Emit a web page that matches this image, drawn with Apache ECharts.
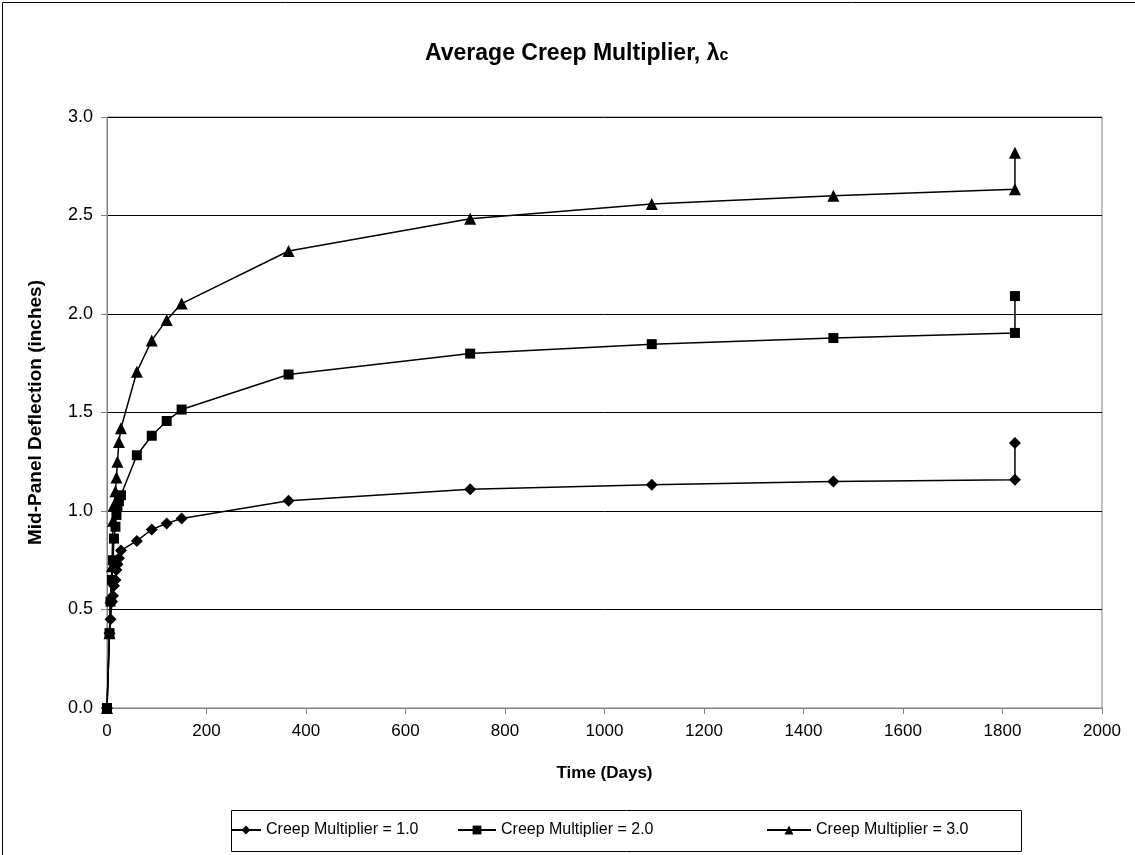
<!DOCTYPE html>
<html>
<head>
<meta charset="utf-8">
<script src="https://cdn.jsdelivr.net/npm/echarts@6/dist/echarts.min.js"></script>
<style>
html,body{margin:0;padding:0;background:#fff;}
#chart{width:1135px;height:855px;}
</style>
</head>
<body>
<div id="chart"></div>
<script>
// ---- data ----
var days = [0, 5, 7, 10, 12, 14, 17, 19, 21, 24, 28, 60, 90, 120, 150, 365, 730, 1095, 1460, 1825, 1825];
var creep1 = [0, 0.38, 0.45, 0.54, 0.57, 0.62, 0.65, 0.70, 0.73, 0.76, 0.80, 0.848, 0.906, 0.937, 0.962, 1.052, 1.110, 1.133, 1.150, 1.159, 1.345];
var creep2 = [0, 0.38, 0.54, 0.65, 0.75, 0.86, 0.92, 0.98, 1.02, 1.05, 1.08, 1.283, 1.382, 1.457, 1.515, 1.693, 1.799, 1.847, 1.878, 1.904, 2.091];
var creep3 = [0, 0.38, 0.56, 0.72, 0.95, 1.03, 1.10, 1.17, 1.25, 1.35, 1.42, 1.707, 1.866, 1.970, 2.053, 2.320, 2.483, 2.558, 2.600, 2.633, 2.819];
var seriesNames = ['Creep Multiplier = 1.0', 'Creep Multiplier = 2.0', 'Creep Multiplier = 3.0'];
var xTicks = [0, 200, 400, 600, 800, 1000, 1200, 1400, 1600, 1800, 2000];
var yTicks = [0.0, 0.5, 1.0, 1.5, 2.0, 2.5, 3.0];

function pairs(ys) { return days.map(function (d, i) { return [d, ys[i]]; }); }

var FONT = 'Liberation Sans, Arial, sans-serif';
var diamond = 'path://M0,-1 L1,0 L0,1 L-1,0 Z';

var chart = echarts.init(document.getElementById('chart'), null, {renderer: 'canvas'});
var lineStyle = {color: '#000', width: 1.5};
var legendText = {fontFamily: FONT, fontSize: 16, color: '#000'};
chart.setOption({
  animation: false,
  backgroundColor: '#fff',
  title: {
    text: '{a|Average Creep Multiplier, λ}{c|c}',
    left: 420,
    top: 37,
    textStyle: {
      rich: {
        a: {fontFamily: FONT, fontWeight: 'bold', fontSize: 23, color: '#000'},
        c: {fontFamily: FONT, fontWeight: 'bold', fontSize: 16, color: '#000', padding: [4, 0, 0, 0]}
      }
    }
  },
  legend: [
    {left: 230, top: 822, padding: 0, itemWidth: 30, itemHeight: 11, data: [seriesNames[0]], textStyle: legendText},
    {left: 457, top: 822, padding: 0, itemWidth: 38, itemHeight: 11, data: [seriesNames[1]], textStyle: legendText},
    {left: 766, top: 822, padding: 0, itemWidth: 44, itemHeight: 11, data: [seriesNames[2]], textStyle: legendText}
  ],
  graphic: [
    {type: 'rect', left: 0, top: 0, shape: {x: 0.5, y: 0.5, width: 1133, height: 853},
     style: {fill: null, stroke: '#000', lineWidth: 1}, silent: true},
    {type: 'rect', left: 229, top: 808, shape: {x: 0.5, y: 0.5, width: 790, height: 41},
     style: {fill: null, stroke: '#000', lineWidth: 1}, silent: true}
  ],
  grid: {left: 107, right: 33, top: 117, bottom: 147, show: true, borderColor: '#808080', borderWidth: 1, backgroundColor: '#fff'},
  xAxis: {
    type: 'value', min: xTicks[0], max: xTicks[xTicks.length - 1], interval: 200,
    name: 'Time (Days)', nameLocation: 'middle', nameGap: 57,
    nameTextStyle: {fontFamily: FONT, fontWeight: 'bold', fontSize: 17, color: '#000'},
    axisLine: {show: true, lineStyle: {color: '#808080'}},
    axisTick: {show: true, inside: false, length: 6, lineStyle: {color: '#808080'}},
    axisLabel: {fontFamily: FONT, fontSize: 17, color: '#000', margin: 15,
      formatter: function (v) { return String(v); }},
    splitLine: {show: false}
  },
  yAxis: {
    type: 'value', min: yTicks[0], max: yTicks[yTicks.length - 1], interval: 0.5,
    name: 'Mid-Panel Deflection (inches)', nameLocation: 'middle', nameGap: 62,
    nameTextStyle: {fontFamily: FONT, fontWeight: 'bold', fontSize: 19, color: '#000'},
    axisLine: {show: true, lineStyle: {color: '#808080'}},
    axisTick: {show: true, inside: false, length: 6, lineStyle: {color: '#808080'}},
    axisLabel: {fontFamily: FONT, fontSize: 18, color: '#000', margin: 14,
      formatter: function (v) { return v.toFixed(1); }},
    splitLine: {show: true, lineStyle: {color: '#000', width: 1}}
  },
  series: [
    {name: seriesNames[0], type: 'line', data: pairs(creep1), symbol: diamond, symbolSize: 12,
     itemStyle: {color: '#000'}, lineStyle: lineStyle, z: 3},
    {name: seriesNames[1], type: 'line', data: pairs(creep2), symbol: 'rect', symbolSize: 10,
     itemStyle: {color: '#000'}, lineStyle: lineStyle, z: 3},
    {name: seriesNames[2], type: 'line', data: pairs(creep3), symbol: 'triangle', symbolSize: 12,
     itemStyle: {color: '#000'}, lineStyle: lineStyle, z: 3}
  ]
});
</script>
</body>
</html>
